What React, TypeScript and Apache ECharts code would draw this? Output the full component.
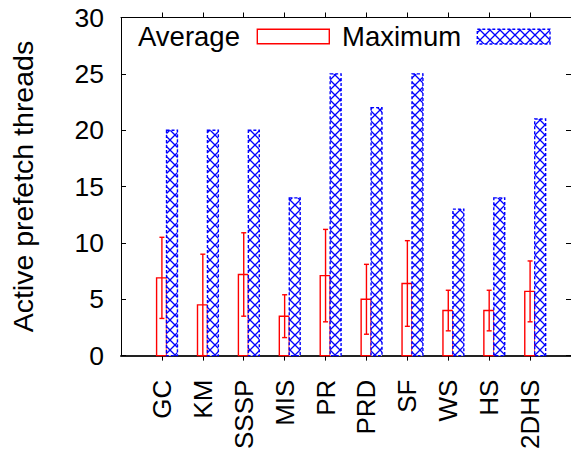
import React, { useEffect, useRef } from 'react';
import * as echarts from 'echarts';

// Benchmarks on the x axis
const categories = ['GC', 'KM', 'SSSP', 'MIS', 'PR', 'PRD', 'SF', 'WS', 'HS', '2DHS'];
// Average number of active prefetch threads and its spread (error bar half-length)
const averageThreads = [6.9, 4.5, 7.2, 3.5, 7.1, 5.0, 6.4, 4.0, 4.0, 5.7];
const averageSpread = [3.6, 4.5, 3.7, 1.9, 4.1, 3.1, 3.8, 1.8, 1.8, 2.7];
// Maximum number of active prefetch threads
const maximumThreads = [20, 20, 20, 14, 25, 22, 25, 13, 14, 21];
// Y axis range
const yMin = 0;
const yMax = 30;
const yStep = 5;

const FONT = '"Liberation Sans", Arial, Helvetica, sans-serif';
const RED = '#ff0000';
const BLUE = '#0000ff';

function makeHatch(): any {
  const size = 10;
  const canvas = document.createElement('canvas');
  canvas.width = size;
  canvas.height = size;
  const ctx = canvas.getContext('2d')!;
  ctx.fillStyle = '#ffffff';
  ctx.fillRect(0, 0, size, size);
  ctx.strokeStyle = BLUE;
  ctx.lineWidth = 1.3;
  ctx.beginPath();
  ctx.moveTo(0, 0);
  ctx.lineTo(size, size);
  ctx.moveTo(size, 0);
  ctx.lineTo(0, size);
  ctx.stroke();
  return { image: canvas, repeat: 'repeat', imageWidth: size, imageHeight: size };
}

const redStyle = () => ({ stroke: RED, lineWidth: 1.4 });
const blueDashStyle = (fill: any) => ({ fill, stroke: BLUE, lineWidth: 1.4, lineDash: [3, 2] });

export default function App() {
  const ref = useRef<HTMLDivElement>(null);

  useEffect(() => {
    if (!ref.current) return;
    const chart = echarts.init(ref.current, null, { renderer: 'svg' });
    const hatch = makeHatch();
    const tickPositions = categories.map((_, i) => i);

    const xAxisCommon = {
      type: 'value',
      min: -1,
      max: categories.length,
      interval: 1,
      splitLine: { show: false },
    };

    const option: any = {
      animation: false,
      backgroundColor: '#ffffff',
      grid: { left: 119.7, top: 17.5, width: 451.4, height: 340.2, containLabel: false },
      xAxis: [
        {
          ...xAxisCommon,
          position: 'bottom',
          axisLine: { show: true, onZero: false, lineStyle: { color: '#222', width: 2 } },
          axisTick: { show: true, inside: false, length: 5, customValues: tickPositions, lineStyle: { color: '#000', width: 1 } },
          axisLabel: {
            show: true,
            rotate: 90,
            margin: 24,
            customValues: tickPositions,
            fontSize: 26,
            fontFamily: FONT,
            color: '#000',
            formatter: (v: number) => categories[v] ?? '',
          },
        },
        {
          ...xAxisCommon,
          position: 'top',
          axisLine: { show: true, onZero: false, lineStyle: { color: '#000', width: 1 } },
          axisTick: { show: true, inside: false, length: 5, customValues: tickPositions, lineStyle: { color: '#000', width: 1 } },
          axisLabel: { show: false },
        },
      ],
      yAxis: [
        {
          type: 'value',
          min: yMin,
          max: yMax,
          interval: yStep,
          position: 'left',
          name: 'Active prefetch threads',
          nameLocation: 'middle',
          nameGap: 84,
          nameRotate: 90,
          nameTextStyle: { fontSize: 28.5, fontFamily: FONT, color: '#000' },
          axisLine: { show: true, onZero: false, lineStyle: { color: '#000', width: 1 } },
          axisTick: { show: true, inside: true, length: 5, lineStyle: { color: '#000', width: 1 } },
          axisLabel: { fontSize: 26.5, fontFamily: FONT, color: '#000', margin: 17 },
          splitLine: { show: false },
        },
        {
          type: 'value',
          min: yMin,
          max: yMax,
          interval: yStep,
          position: 'right',
          axisLine: { show: true, onZero: false, lineStyle: { color: '#000', width: 1 } },
          axisTick: { show: true, inside: true, length: 5, lineStyle: { color: '#000', width: 1 } },
          axisLabel: { show: false },
          splitLine: { show: false },
        },
      ],
      series: [
        {
          type: 'custom',
          name: 'Average',
          xAxisIndex: 0,
          yAxisIndex: 0,
          data: categories.map((_, i) => [i, averageThreads[i], averageSpread[i]]),
          renderItem: (_params: any, api: any) => {
            const i = api.value(0);
            const avg = api.value(1);
            const dev = api.value(2);
            const [xl, yb] = api.coord([i - 0.13, 0]);
            const [xr, yt] = api.coord([i + 0.113, avg]);
            const [xc, yHi] = api.coord([i, avg + dev]);
            const [, yLo] = api.coord([i, Math.max(0, avg - dev)]);
            const cap = 2.5;
            return {
              type: 'group',
              children: [
                { type: 'rect', shape: { x: xl, y: yt, width: xr - xl, height: yb - yt }, style: { fill: '#fff', ...redStyle() } },
                { type: 'line', shape: { x1: xc, y1: yHi, x2: xc, y2: yLo }, style: redStyle() },
                { type: 'line', shape: { x1: xc - cap, y1: yHi, x2: xc + cap, y2: yHi }, style: redStyle() },
                { type: 'line', shape: { x1: xc - cap, y1: yLo, x2: xc + cap, y2: yLo }, style: redStyle() },
              ],
            };
          },
        },
        {
          type: 'custom',
          name: 'Maximum',
          xAxisIndex: 0,
          yAxisIndex: 0,
          data: categories.map((_, i) => [i, maximumThreads[i]]),
          renderItem: (_params: any, api: any) => {
            const i = api.value(0);
            const mx = api.value(1);
            const [xl, yb] = api.coord([i + 0.113, 0]);
            const [xr, yt] = api.coord([i + 0.38, mx]);
            return {
              type: 'rect',
              shape: { x: xl, y: yt, width: xr - xl, height: yb - yt },
              style: blueDashStyle(hatch),
            };
          },
        },
      ],
      graphic: [
        {
          type: 'text',
          x: 138,
          y: 36.3,
          style: { text: 'Average', font: `27.5px ${FONT}`, fill: '#000', align: 'left', verticalAlign: 'middle' },
        },
        {
          type: 'rect',
          shape: { x: 257.3, y: 29.3, width: 72, height: 14.4 },
          style: { fill: '#fff', ...redStyle() },
        },
        {
          type: 'text',
          x: 342,
          y: 36.3,
          style: { text: 'Maximum', font: `27.5px ${FONT}`, fill: '#000', align: 'left', verticalAlign: 'middle' },
        },
        {
          type: 'rect',
          shape: { x: 477.3, y: 29.3, width: 72.7, height: 14.7 },
          style: blueDashStyle(hatch),
        },
      ],
    };

    chart.setOption(option);
    return () => chart.dispose();
  }, []);

  return (
    <div
      ref={ref}
      style={{ position: 'fixed', left: 0, top: 0, width: 571, height: 452, background: '#fff' }}
    />
  );
}
